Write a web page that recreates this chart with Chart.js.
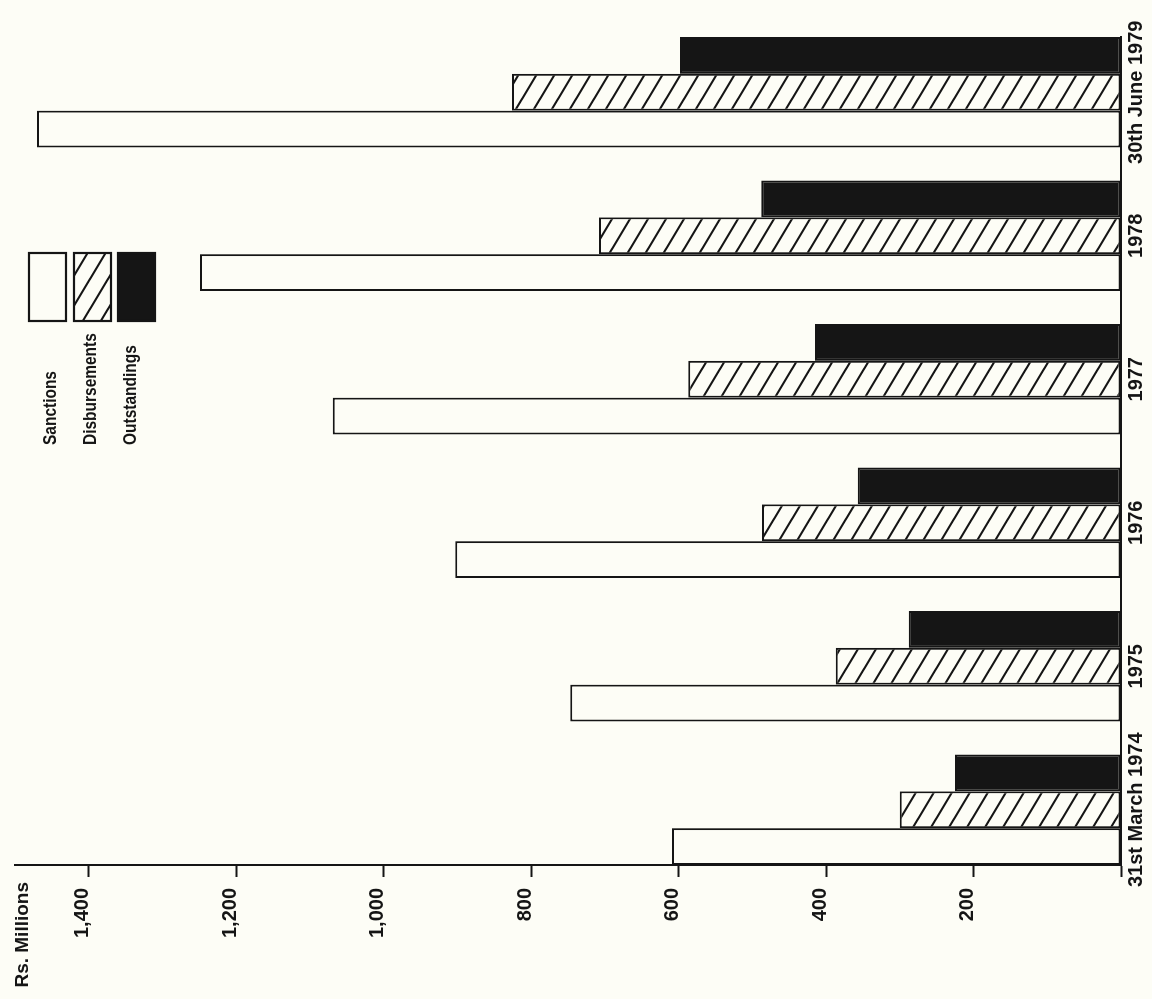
<!DOCTYPE html>
<html>
<head>
<meta charset="utf-8">
<title>Sanctions, Disbursements and Outstandings</title>
<script src="https://cdn.jsdelivr.net/npm/chart.js@4.4.0/dist/chart.umd.min.js"></script>
<style>
  html, body { margin: 0; padding: 0; width: 1152px; height: 999px; overflow: hidden; background: #fdfdf6; }
  /* the chart is laid out upright, then turned a quarter turn anticlockwise */
  #turn { position: absolute; left: 0; top: 0; width: 999px; height: 1152px;
          transform-origin: 0 0; transform: translate(0, 999px) rotate(-90deg); }
  canvas { display: block; }
</style>
</head>
<body>
<div id="turn"><canvas id="chart" width="999" height="1152"></canvas></div>
<script>
// Rs. millions at each date
const categories    = ['31st March 1974', '1975', '1976', '1977', '1978', '30th June 1979'];
const sanctions     = [609, 747, 903, 1069, 1249, 1470];
const disbursements = [300, 387, 487, 587, 708, 826];
const outstandings  = [225, 288, 357, 415, 488, 598];
const seriesNames   = ['Sanctions', 'Disbursements', 'Outstandings'];
const tickValues    = [0, 200, 400, 600, 800, 1000, 1200, 1400];
const tickLabels    = ['', '200', '400', '600', '800', '1,000', '1,200', '1,400'];
const axisTitle     = 'Rs. Millions';

const INK = '#151515';
const PAPER = '#fdfdf6';
const FONT = '"Liberation Sans", Arial, sans-serif';

const canvas = document.getElementById('chart');
const ctx = canvas.getContext('2d');

// diagonal single hatching for the disbursements bars
function hatchPattern() {
  const w = 30, h = 18;
  const t = document.createElement('canvas');
  t.width = w; t.height = h;
  const g = t.getContext('2d');
  g.fillStyle = PAPER;
  g.fillRect(0, 0, w, h);
  g.strokeStyle = INK;
  g.lineWidth = 2;
  g.beginPath();
  for (let k = -1; k <= 1; k++) {
    g.moveTo(-w, -h + k * h);
    g.lineTo(2 * w, 2 * h + k * h);
  }
  g.stroke();
  return ctx.createPattern(t, 'repeat');
}

const fills = [PAPER, hatchPattern(), INK];
const seriesData = [sanctions, disbursements, outstandings];

// key block and the unit caption
const decorations = {
  id: 'decorations',
  afterDraw(chart) {
    const c = chart.ctx;
    c.save();
    const boxTops = [28, 73, 117];
    const textMid = [51, 91.5, 131.5];
    chart.data.datasets.forEach((d, i) => {
      const top = boxTops[i];
      c.fillStyle = d.backgroundColor;
      c.fillRect(677, top, 70, 39);
      c.strokeStyle = INK;
      c.lineWidth = 2.2;
      c.strokeRect(678, top + 1, 68, 37);
      c.save();
      c.translate(554, textMid[i]);
      c.scale(0.86, 1);
      c.fillStyle = INK;
      c.font = 'bold 18px ' + FONT;
      c.textAlign = 'left';
      c.textBaseline = 'middle';
      c.fillText(d.label, 0, 0);
      c.restore();
    });
    c.font = 'bold 19px ' + FONT;
    c.fillStyle = INK;
    c.textAlign = 'right';
    c.textBaseline = 'alphabetic';
    c.fillText(axisTitle, 117, 28);
    c.restore();
  }
};

new Chart(ctx, {
  type: 'bar',
  data: {
    datasets: seriesNames.map((name, s) => ({
      label: name,
      data: seriesData[s].map((v, i) => ({ x: i, y: v })),
      backgroundColor: fills[s],
      borderColor: INK,
      borderWidth: 2,
      borderSkipped: false
    }))
  },
  options: {
    responsive: false,
    animation: false,
    devicePixelRatio: 1,
    categoryPercentage: 0.77,
    barPercentage: 1,
    layout: { padding: { top: 15, right: 37, left: 0, bottom: 0 } },
    plugins: { legend: { display: false }, tooltip: { enabled: false } },
    scales: {
      x: {
        type: 'linear',
        offset: false,
        bounds: 'data',
        min: -0.385,
        max: categories.length - 1 + 0.385,
        afterBuildTicks: s => { s.ticks = categories.map((_, i) => ({ value: i })); },
        ticks: {
          callback: v => categories[v],
          autoSkip: false, maxRotation: 0, minRotation: 0,
          padding: 3, color: INK,
          font: { family: FONT, size: 20, weight: 'bold' }
        },
        grid: { display: false, drawTicks: false, offset: false },
        border: { display: true, color: INK, width: 2 },
        afterFit: s => { s.height = 31; s.paddingLeft = 0; s.paddingRight = 0; }
      },
      y: {
        type: 'linear',
        min: 0,
        max: 1500,
        afterBuildTicks: s => { s.ticks = tickValues.map(v => ({ value: v })); },
        ticks: {
          callback: (v, i) => tickLabels[i],
          padding: 11, labelOffset: -6, color: INK,
          font: { family: FONT, size: 20, weight: 'bold' }
        },
        grid: { drawOnChartArea: false, drawTicks: true, tickLength: 12, tickWidth: 2, tickColor: INK },
        border: { display: true, color: INK, width: 2 },
        afterFit: s => { s.width = 134; s.paddingTop = 0; s.paddingBottom = 0; }
      }
    }
  },
  plugins: [decorations]
});
</script>
</body>
</html>
